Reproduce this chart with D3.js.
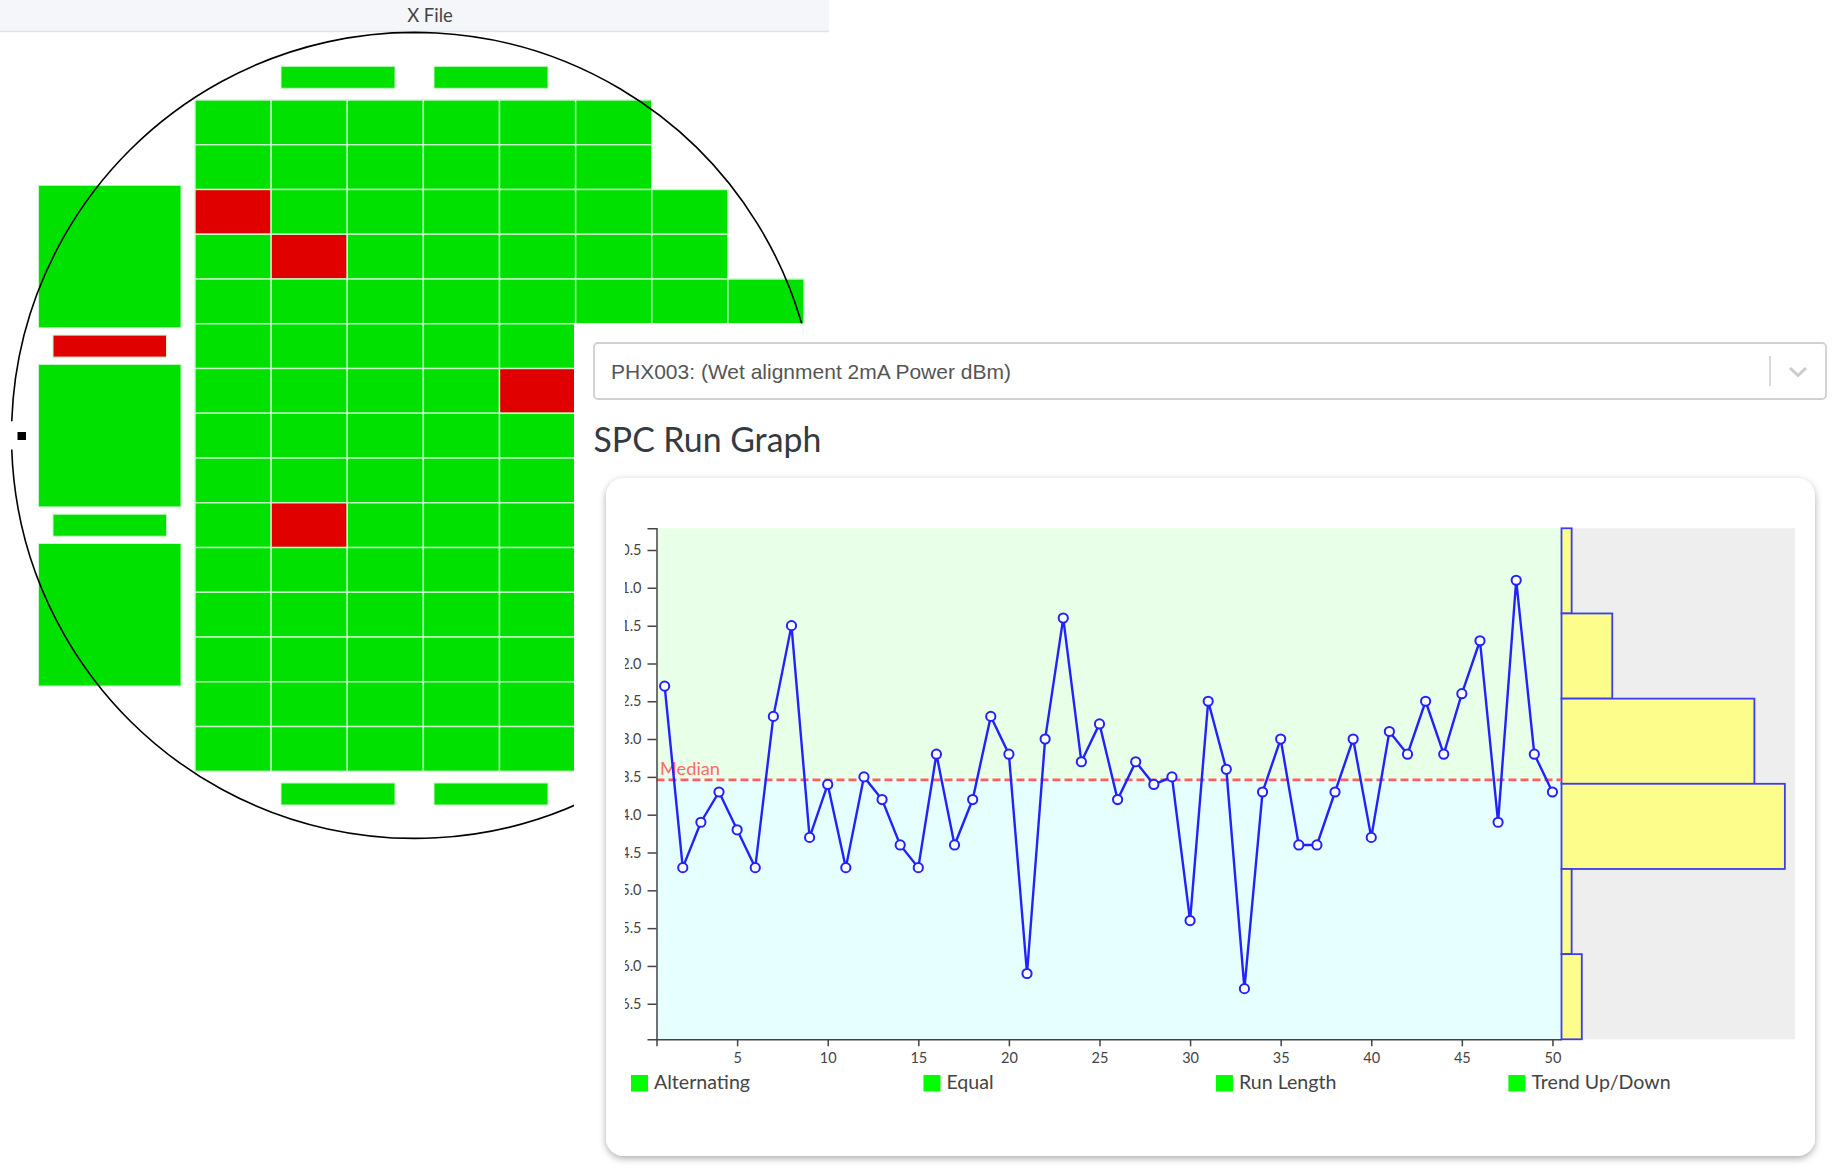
<!DOCTYPE html>
<html>
<head>
<meta charset="utf-8">
<title>SPC Run Graph</title>
<script src="https://cdn.jsdelivr.net/npm/d3@7/dist/d3.min.js"></script>
<style>
    html, body { margin: 0; padding: 0; background: #fff; }
    svg { display: block; }
    .axis text { font-family: "Lato", sans-serif; font-size: 14.5px; fill: #444; }
    .axis path, .axis line { stroke: #444; stroke-width: 1.5; }
    .legend text { font-family: "Lato", sans-serif; font-size: 19.6px; fill: #444; }
</style>
</head>
<body>
<div id="chart"></div>
<script>
// wafer map
var rowLengths = [6, 6, 7, 7, 8, 5, 5, 5, 5, 5, 5, 5, 5, 5, 5];
var failedDies = [[2, 0], [3, 1], [6, 4], [9, 1]]; // row, col
var leftStack = ["pass", "fail", "pass", "pass", "pass"]; // big, bar, big, bar, big
var topBars = ["pass", "pass"];
var bottomBars = ["pass", "pass"];

// run graph
var runValues = [
    -12.3, -14.7, -14.1, -13.7, -14.2, -14.7, -12.7, -11.5, -14.3, -13.6,
    -14.7, -13.5, -13.8, -14.4, -14.7, -13.2, -14.4, -13.8, -12.7, -13.2,
    -16.1, -13.0, -11.4, -13.3, -12.8, -13.8, -13.3, -13.6, -13.5, -15.4,
    -12.5, -13.4, -16.3, -13.7, -13.0, -14.4, -14.4, -13.7, -13.0, -14.3,
    -12.9, -13.2, -12.5, -13.2, -12.4, -11.7, -14.1, -10.9, -13.2, -13.7
];
var medianValue = -13.54;
var histCounts = [1, 5, 19, 22, 1, 2];
var yTicks = [-10.5, -11, -11.5, -12, -12.5, -13, -13.5, -14, -14.5, -15, -15.5, -16, -16.5];
var xTicks = [5, 10, 15, 20, 25, 30, 35, 40, 45, 50];
var legendNames = ["Alternating", "Equal", "Run Length", "Trend Up/Down"];

var selectLabel = "PHX003: (Wet alignment 2mA Power dBm)";
var headerLabel = "X File";
var titleLabel = "SPC Run Graph";

var width = 1848, height = 1175;
var dieColor = {pass: "#00e100", fail: "#e00000"};
var dieEdge = "#c9f7c9";

var svg = d3.select("#chart").append("svg")
    .attr("width", width)
    .attr("height", height);

var defs = svg.append("defs");
var shadow = defs.append("filter").attr("id", "card-shadow")
    .attr("x", "-3%").attr("y", "-3%").attr("width", "106%").attr("height", "106%");
shadow.append("feDropShadow")
    .attr("dx", 0).attr("dy", 2.5).attr("stdDeviation", 3.5)
    .attr("flood-color", "#000").attr("flood-opacity", 0.33);

// header strip
svg.append("rect")
    .attr("width", 829).attr("height", 31)
    .attr("fill", "#f5f6fa");
svg.append("line")
    .attr("x1", 0).attr("x2", 829).attr("y1", 31.5).attr("y2", 31.5)
    .attr("stroke", "#dde1ea").attr("stroke-width", 1.5);
svg.append("text")
    .attr("x", 430).attr("y", 22)
    .attr("text-anchor", "middle")
    .style("font-family", "Lato, sans-serif").style("font-size", "18.5px").style("fill", "#444")
    .text(headerLabel);

// --- wafer ---
var colX = d3.scaleBand().domain(d3.range(8)).range([195, 804]);
var rowY = d3.scaleBand().domain(d3.range(15)).range([100, 771.3]);

var wafer = svg.append("g");

var cells = [];
rowLengths.forEach(function (n, row) {
    d3.range(n).forEach(function (col) {
        var failed = failedDies.some(function (d) { return d[0] === row && d[1] === col; });
        cells.push({row: row, col: col, status: failed ? "fail" : "pass"});
    });
});

wafer.selectAll("rect.die")
    .data(cells)
    .enter().append("rect")
    .attr("class", "die")
    .attr("x", function (d) { return colX(d.col); })
    .attr("y", function (d) { return rowY(d.row); })
    .attr("width", colX.bandwidth())
    .attr("height", rowY.bandwidth())
    .attr("fill", function (d) { return dieColor[d.status]; })
    .attr("stroke", dieEdge)
    .attr("stroke-width", 1.4);

// test structures around the grid
var bigH = 142.5, barH = 22, stackGap = 7.3;
var stackY = 185.3;
var stackItems = leftStack.map(function (status, i) {
    var big = i % 2 === 0;
    var item = {status: status, big: big, y: stackY};
    stackY += (big ? bigH : barH) + stackGap;
    return item;
});

wafer.selectAll("rect.stack")
    .data(stackItems)
    .enter().append("rect")
    .attr("class", "stack")
    .attr("x", function (d) { return d.big ? 38.5 : 53; })
    .attr("y", function (d) { return d.y; })
    .attr("width", function (d) { return d.big ? 142.5 : 113.5; })
    .attr("height", function (d) { return d.big ? bigH : barH; })
    .attr("fill", function (d) { return dieColor[d.status]; })
    .attr("stroke", dieEdge);

[[topBars, 66.3], [bottomBars, 783]].forEach(function (pair) {
    wafer.selectAll(null)
        .data(pair[0])
        .enter().append("rect")
        .attr("x", function (d, i) { return i === 0 ? 281 : 434; })
        .attr("y", pair[1])
        .attr("width", 114)
        .attr("height", 22)
        .attr("fill", function (d) { return dieColor[d]; })
        .attr("stroke", dieEdge);
});

// wafer outline, broken at the notch
var notchGap = 0.035;
wafer.append("path")
    .attr("transform", "translate(414.5,435.4)")
    .attr("d", d3.arc()
        .innerRadius(403).outerRadius(403)
        .startAngle(-Math.PI / 2 + notchGap)
        .endAngle(1.5 * Math.PI - notchGap)())
    .attr("fill", "none")
    .attr("stroke", "#000")
    .attr("stroke-width", 1.6);
wafer.append("rect")
    .attr("x", 17.5).attr("y", 432)
    .attr("width", 8.5).attr("height", 8)
    .attr("fill", "#000");

// --- panel laid over the wafer ---
svg.append("rect")
    .attr("x", 574).attr("y", 323.5)
    .attr("width", width - 574).attr("height", height - 323.5)
    .attr("fill", "#fff");

// select box
svg.append("rect")
    .attr("x", 594).attr("y", 343)
    .attr("width", 1232).attr("height", 56)
    .attr("rx", 4)
    .attr("fill", "#fff").attr("stroke", "#d0d0d0").attr("stroke-width", 1.8);
svg.append("text")
    .attr("x", 611).attr("y", 379)
    .style("font-family", "'Liberation Sans', Arial, sans-serif")
    .style("font-size", "21px").style("fill", "#555")
    .text(selectLabel);
svg.append("line")
    .attr("x1", 1770).attr("x2", 1770).attr("y1", 356).attr("y2", 386)
    .attr("stroke", "#ccc").attr("stroke-width", 1.5);
svg.append("path")
    .attr("d", d3.line()([[1790, 368], [1798, 375.5], [1806, 368]]))
    .attr("fill", "none").attr("stroke", "#ccc").attr("stroke-width", 3);

svg.append("text")
    .attr("x", 593.5).attr("y", 452)
    .style("font-family", "Lato, sans-serif")
    .style("font-size", "33.8px").style("fill", "#343a40")
    .text(titleLabel);

// card
svg.append("rect")
    .attr("x", 606).attr("y", 478)
    .attr("width", 1209).attr("height", 678)
    .attr("rx", 18)
    .attr("fill", "#fff")
    .attr("filter", "url(#card-shadow)");

// --- run graph ---
var plot = {left: 656.5, right: 1561.5, top: 528.3, bottom: 1039.3};

var x = d3.scaleLinear().domain([0.55, 50.5]).range([plot.left, plot.right]);
var y = d3.scaleLinear().domain([-10.213, -16.97]).range([plot.top, plot.bottom]);
var histX = d3.scaleLinear().domain([0, 23]).range([plot.right, 1795]);
var histBand = d3.scaleBand().domain(d3.range(histCounts.length)).range([plot.top, plot.bottom]);

var g = svg.append("g");

// bands above and below the median
g.append("rect")
    .attr("x", plot.left).attr("y", plot.top)
    .attr("width", plot.right - plot.left)
    .attr("height", y(medianValue) - plot.top)
    .attr("fill", "#e8ffe8");
g.append("rect")
    .attr("x", plot.left).attr("y", y(medianValue))
    .attr("width", plot.right - plot.left)
    .attr("height", plot.bottom - y(medianValue))
    .attr("fill", "#e6ffff");
g.append("rect")
    .attr("x", plot.right).attr("y", plot.top)
    .attr("width", histX.range()[1] - plot.right)
    .attr("height", plot.bottom - plot.top)
    .attr("fill", "#eeeeee");

// side histogram
g.selectAll("rect.bin")
    .data(histCounts)
    .enter().append("rect")
    .attr("class", "bin")
    .attr("x", plot.right)
    .attr("y", function (d, i) { return histBand(i); })
    .attr("width", function (d) { return histX(d) - plot.right; })
    .attr("height", histBand.bandwidth())
    .attr("fill", "#fdfd8c")
    .attr("stroke", "#3c3cf0")
    .attr("stroke-width", 1.8);

// median
g.append("line")
    .attr("x1", plot.left).attr("x2", plot.right)
    .attr("y1", y(medianValue)).attr("y2", y(medianValue))
    .attr("stroke", "#ff5f5f")
    .attr("stroke-width", 2.6)
    .attr("stroke-dasharray", "8,4");
g.append("text")
    .attr("x", 660).attr("y", y(medianValue) - 5)
    .style("font-family", "Lato, sans-serif")
    .style("font-size", "18.2px").style("fill", "#ff6a6a")
    .text("Median");

// run line
var runLine = d3.line()
    .x(function (d, i) { return x(i + 1); })
    .y(function (d) { return y(d); });

g.append("path")
    .datum(runValues)
    .attr("d", runLine)
    .attr("fill", "none")
    .attr("stroke", "#2222ff")
    .attr("stroke-width", 2.4);

g.selectAll("circle.run")
    .data(runValues)
    .enter().append("circle")
    .attr("class", "run")
    .attr("cx", function (d, i) { return x(i + 1); })
    .attr("cy", function (d) { return y(d); })
    .attr("r", 4.6)
    .attr("fill", "#fff")
    .attr("stroke", "#2222ff")
    .attr("stroke-width", 2);

// axes: the y labels run off the clip on the left, as they do in the app
defs.append("clipPath").attr("id", "ylabels")
    .append("rect")
    .attr("x", 625).attr("y", plot.top - 20)
    .attr("width", 60).attr("height", plot.bottom - plot.top + 40);

var yAxis = d3.axisLeft(y)
    .tickValues(yTicks)
    .tickSize(9)
    .tickPadding(6)
    .tickFormat(d3.format(".1f"));

svg.append("g")
    .attr("clip-path", "url(#ylabels)")
  .append("g")
    .attr("class", "axis")
    .attr("transform", "translate(" + plot.left + ",0)")
    .call(yAxis);

var xAxis = d3.axisBottom(x)
    .tickValues([x.domain()[0]].concat(xTicks))
    .tickSize(7)
    .tickSizeOuter(0)
    .tickPadding(6)
    .tickFormat(function (d) { return xTicks.indexOf(d) >= 0 ? d : ""; });

svg.append("g")
    .attr("class", "axis")
    .attr("transform", "translate(0," + plot.bottom + ")")
    .call(xAxis);

// legend
var legendX = d3.scalePoint().domain(legendNames).range([631, 1508.4]);
var legend = svg.append("g").attr("class", "legend")
    .selectAll("g")
    .data(legendNames)
    .enter().append("g")
    .attr("transform", function (d) { return "translate(" + legendX(d) + ",1075)"; });

legend.append("rect")
    .attr("width", 17).attr("height", 16.5)
    .attr("fill", "#00ff00");
legend.append("text")
    .attr("x", 23).attr("y", 13.5)
    .text(function (d) { return d; });

</script>
</body>
</html>
